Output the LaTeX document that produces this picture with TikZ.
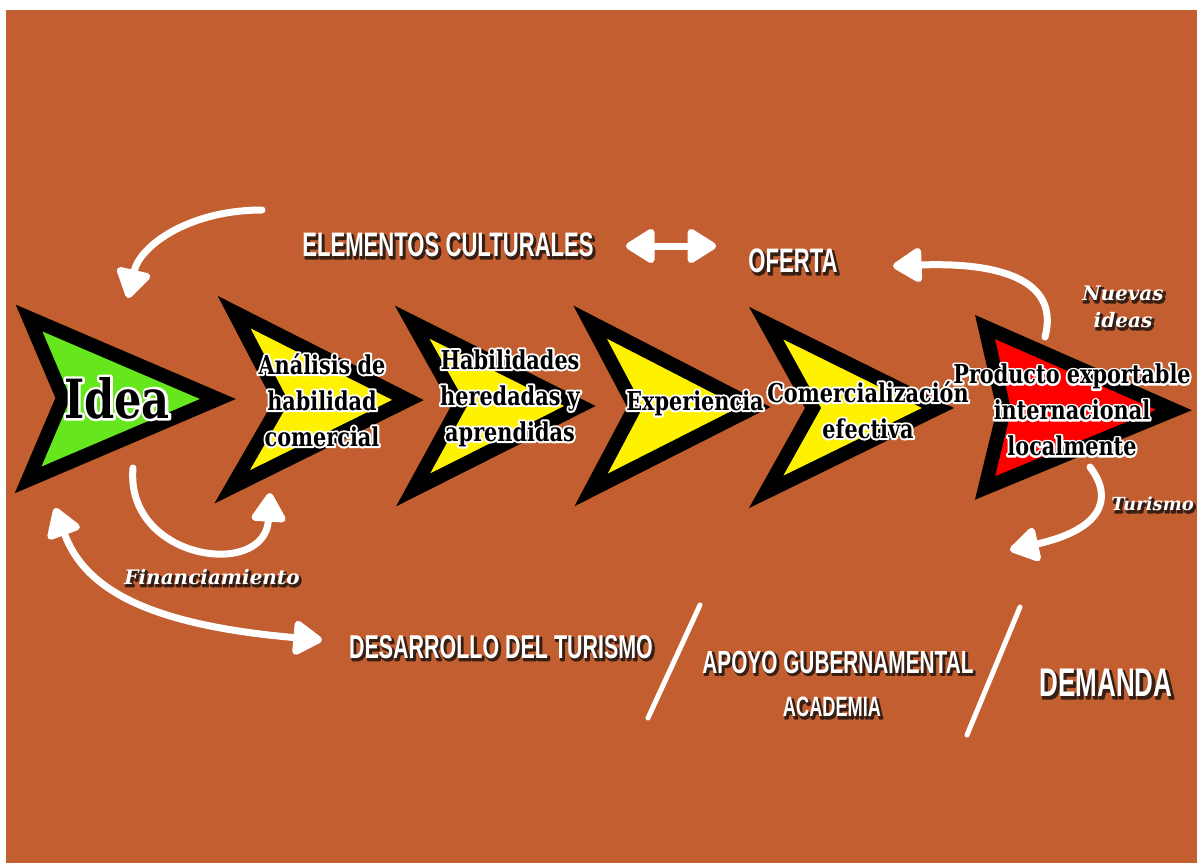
\documentclass[tikz,border=0pt]{standalone}
\usepackage{fontspec}
\usepackage{tikz}
\usetikzlibrary{arrows.meta, positioning}
\setmainfont{DejaVu Serif}
\newfontfamily\stepfont[FakeStretch=0.8]{DejaVu Serif}
\newfontfamily\capsfont[FakeStretch=0.65]{Liberation Sans}

\definecolor{bgorange}{RGB}{194,94,47}
\definecolor{ideagreen}{RGB}{102,230,28}
\definecolor{shadowbrown}{RGB}{56,31,20}

% white rim under black text: rim width, text
\newcommand{\wline}[2][4]{\rlap{\special{pdf:literal direct 1 1 1 RG #1 w 1 j 1 Tr}#2\special{pdf:literal direct 0 Tr 0 j}}#2}
% dark shadow under white text
\newcommand{\dline}[1]{\rlap{\hspace{1.8pt}\raisebox{-1.8pt}{\color{shadowbrown}\special{pdf:literal direct 0.22 0.12 0.08 RG 2 w 1 j 2 Tr}#1\special{pdf:literal direct 0 Tr 0 j}}}#1}

\begin{document}
\begin{tikzpicture}[x=1pt, y=-1pt]
\tikzstyle{chev} = [draw=black, line width=14pt, line join=miter]
\tikzstyle{steptext} = [font=\stepfont\bfseries\fontsize{26}{36}\selectfont, align=center, text=black, inner sep=0pt]
\tikzstyle{caps} = [font=\capsfont\bfseries\fontsize{34}{40}\selectfont, text=white, inner sep=0pt]
\tikzstyle{swash} = [font=\bfseries\itshape\fontsize{20}{27}\selectfont, text=white, align=center, inner sep=0pt]
\tikzstyle{warrow} = [draw=white, line width=7pt, line cap=round, -{Triangle[round, length=32pt, width=38pt]}]
\tikzstyle{dwarrow} = [draw=white, line width=7pt, line cap=round, {Triangle[round, length=32pt, width=38pt]}-{Triangle[round, length=32pt, width=38pt]}]
\tikzstyle{slash} = [draw=white, line width=5pt, line cap=round]

% background
\fill[white] (0,0) rectangle (1197,863);
\fill[bgorange] (6,10) rectangle (1197,863);
\useasboundingbox (0,0) rectangle (1197,863);

% chevrons
\draw[chev, fill=ideagreen] (29,318) -- (218,399) -- (28,480) -- (63,398) -- cycle;
\draw[chev, fill=yellow] (234,312) -- (408,400) -- (232,487) -- (281,402) -- cycle;
\draw[chev, fill=yellow] (412,322) -- (580,406) -- (413,490) -- (459,406) -- cycle;
\draw[chev, fill=yellow] (590,322) -- (755,407) -- (591,490) -- (635,407) -- cycle;
\draw[chev, fill=yellow] (766,323) -- (938,408) -- (766,492) -- (813,408) -- cycle;
\draw[chev, fill=red] (985,327) -- (1174,410) -- (985,488) -- (1004,410) -- cycle;

% step texts
\node[steptext, font=\stepfont\bfseries\fontsize{54}{56}\selectfont] (idea) at (117,398) {\wline[5]{Idea}};
\node[steptext] (analisis) at (322,400) {\wline{Análisis de}\\\wline{habilidad}\\\wline{comercial}};
\node[steptext] (habilidades) at (510,398) {\wline{Habilidades}\\\wline{heredadas y}\\\wline{aprendidas}};
\node[steptext] (experiencia) at (695,403) {\wline{Experiencia}};
\node[steptext] (comercial) at (868,410) {\wline{Comercialización}\\\wline{efectiva}};
\node[steptext] (producto) at (1072,410) {\wline{Producto exportable}\\\wline{internacional}\\\wline{localmente}};

% labels
\node[caps] (culturales) at (448,246) {\dline{ELEMENTOS CULTURALES}};
\node[caps] (oferta) at (793,262) {\dline{OFERTA}};
\node[caps, font=\capsfont\bfseries\fontsize{33}{40}\selectfont] (desarrollo) at (501,648) {\dline{DESARROLLO DEL TURISMO}};
\node[caps, font=\capsfont\bfseries\fontsize{32}{40}\selectfont] (apoyo) at (838,663) {\dline{APOYO GUBERNAMENTAL}};
\node[caps, font=\capsfont\bfseries\fontsize{28}{40}\selectfont] (academia) at (832,708) {\dline{ACADEMIA}};
\node[caps, font=\capsfont\bfseries\fontsize{40}{44}\selectfont] (demanda) at (1106,684) {\dline{DEMANDA}};

\node[swash] (nuevas) at (1123,308) {\dline{Nuevas}\\\dline{ideas}};
\node[swash, font=\bfseries\itshape\fontsize{18}{24}\selectfont, anchor=east] (turismo) at (1194,505) {\dline{Turismo}};
\node[swash] (financiamiento) at (212,578) {\dline{Financiamiento}};

% arrow ends
\coordinate (toidea) at (128,298);
\coordinate (fromtop) at (262,210);
\coordinate (fromprod) at (1045,337);
\coordinate (tooferta) at (893,266);
\coordinate (fromprodlow) at (1090,467);
\coordinate (toturismo) at (1010,550);
\coordinate (fromidea) at (133,468);
\coordinate (toanalisis) at (270,493);
\coordinate (ideaback) at (55,508);
\coordinate (todesarrollo) at (322,640);

% connectors
\draw[warrow] (fromtop) .. controls (190,210) and (140,245) .. (toidea);
\draw[dwarrow, shorten <=32pt, shorten >=32pt] (culturales.east) -- (culturales.east -| oferta.west);
\draw[warrow] (fromprod) .. controls (1060,280) and (1000,262) .. (tooferta);
\draw[warrow] (fromprodlow) .. controls (1115,500) and (1100,530) .. (toturismo);
\draw[warrow] (fromidea) .. controls (125,560) and (265,580) .. (toanalisis);
\draw[dwarrow] (ideaback) .. controls (85,590) and (150,625) .. (todesarrollo);

% separators
\coordinate (s1a) at (700,605);
\coordinate (s1b) at (648,718);
\coordinate (s2a) at (1020,607);
\coordinate (s2b) at (967,735);
\draw[slash] (s1a) -- (s1b);
\draw[slash] (s2a) -- (s2b);

\end{tikzpicture}
\end{document}
